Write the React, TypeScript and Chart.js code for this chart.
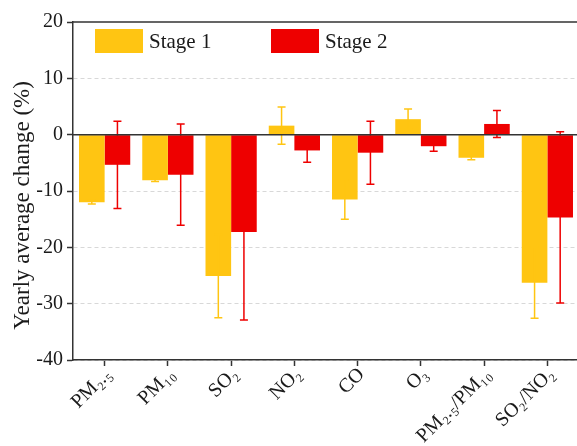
import React, { useEffect, useRef } from 'react';
import { Chart, registerables } from 'chart.js';

Chart.register(...registerables);

const categories = ['PM₂.₅', 'PM₁₀', 'SO₂', 'NO₂', 'CO', 'O₃', 'PM₂.₅/PM₁₀', 'SO₂/NO₂'];
const stage1Values = [-12.0, -8.1, -25.1, 1.6, -11.5, 2.75, -4.1, -26.3];
const stage1Errors = [0.3, 0.2, 7.4, 3.3, 3.5, 1.8, 0.35, 6.3];
const stage2Values = [-5.35, -7.1, -17.3, -2.8, -3.2, -2.05, 1.9, -14.7];
const stage2Errors = [7.75, 9.0, 15.6, 2.1, 5.6, 0.9, 2.4, 15.2];
const yMin = -40;
const yMax = 20;
const yStep = 10;

const FONT = '"Liberation Serif", "Times New Roman", serif';
const TEXT = '#1a1a1a';
const AXIS = '#333333';
const YELLOW = '#FFC512';
const RED = '#EE0000';

const errorBarPlugin = {
  id: 'errorBars',
  afterDatasetsDraw(chart: any) {
    const ctx = chart.ctx;
    const y = chart.scales.y;
    const area = chart.chartArea;
    chart.data.datasets.forEach((ds: any, di: number) => {
      const meta = chart.getDatasetMeta(di);
      meta.data.forEach((bar: any, i: number) => {
        const v = ds.data[i];
        const e = ds.errors[i];
        const x = bar.x;
        const yHi = y.getPixelForValue(v + e);
        const yLo = y.getPixelForValue(v - e);
        ctx.save();
        ctx.strokeStyle = ds.errorColor;
        ctx.lineWidth = 1.5;
        ctx.beginPath();
        ctx.moveTo(x, yHi);
        ctx.lineTo(x, yLo);
        ctx.moveTo(x - 4, yHi);
        ctx.lineTo(x + 4, yHi);
        ctx.moveTo(x - 4, yLo);
        ctx.lineTo(x + 4, yLo);
        ctx.stroke();
        ctx.restore();
      });
    });
    // zero line and top frame on top of bars
    ctx.save();
    ctx.strokeStyle = AXIS;
    ctx.lineWidth = 1.5;
    ctx.beginPath();
    const y0 = y.getPixelForValue(0);
    ctx.moveTo(area.left, y0);
    ctx.lineTo(area.right, y0);
    const yT = y.getPixelForValue(yMax);
    ctx.moveTo(area.left, yT);
    ctx.lineTo(area.right, yT);
    ctx.stroke();
    ctx.restore();
  },
};

const legendPlugin = {
  id: 'insideLegend',
  afterDraw(chart: any) {
    const ctx = chart.ctx;
    const area = chart.chartArea;
    const offsets = [22, 198];
    ctx.save();
    ctx.font = `21px ${FONT}`;
    ctx.textBaseline = 'middle';
    ctx.textAlign = 'left';
    chart.data.datasets.forEach((ds: any, i: number) => {
      const bx = area.left + offsets[i];
      const by = area.top + 7;
      ctx.fillStyle = ds.backgroundColor;
      ctx.fillRect(bx, by, 48, 24);
      ctx.fillStyle = TEXT;
      ctx.fillText(ds.label, bx + 54, by + 13);
    });
    ctx.restore();
  },
};

export default function App() {
  const canvasRef = useRef<HTMLCanvasElement>(null);

  useEffect(() => {
    if (!canvasRef.current) return;
    const chart = new Chart(canvasRef.current, {
      type: 'bar',
      data: {
        labels: categories,
        datasets: [
          {
            label: 'Stage 1',
            data: stage1Values,
            errors: stage1Errors,
            errorColor: YELLOW,
            backgroundColor: YELLOW,
            borderWidth: 0,
            categoryPercentage: 0.81,
            barPercentage: 1.0,
          } as any,
          {
            label: 'Stage 2',
            data: stage2Values,
            errors: stage2Errors,
            errorColor: RED,
            backgroundColor: RED,
            borderWidth: 0,
            categoryPercentage: 0.81,
            barPercentage: 1.0,
          } as any,
        ],
      },
      options: {
        responsive: false,
        animation: false,
        devicePixelRatio: 1,
        layout: { padding: { top: 22, right: 0, left: 0, bottom: 0 } },
        plugins: {
          legend: { display: false },
          tooltip: { enabled: false },
        },
        scales: {
          x: {
            type: 'category',
            offset: true,
            grid: {
              offset: false,
              drawOnChartArea: false,
              drawTicks: true,
              tickLength: 6,
              tickColor: AXIS,
              tickWidth: 1.5,
            },
            border: { display: true, color: AXIS, width: 1.5, z: 1 },
            ticks: {
              autoSkip: false,
              maxRotation: 45,
              minRotation: 45,
              padding: -3,
              labelOffset: 4,
              color: TEXT,
              font: { family: FONT, size: 20 },
            },
            afterFit: (s: any) => {
              s.height = 86;
            },
          },
          y: {
            min: yMin,
            max: yMax,
            grid: {
              color: (c: any) => (c.tick && (c.tick.value === 0 || c.tick.value === yMax) ? 'rgba(0,0,0,0)' : '#d8d8d8'),
              lineWidth: 1,
              drawTicks: true,
              tickLength: 6,
              tickColor: AXIS,
              tickWidth: 1.5,
            },
            border: {
              display: true,
              color: AXIS,
              width: 1.5,
              dash: (c: any) => (c.tick ? [4, 3] : []),
            },
            ticks: {
              stepSize: yStep,
              padding: 4,
              color: TEXT,
              font: { family: FONT, size: 20 },
            },
            title: {
              display: true,
              text: 'Yearly average change (%)\u00A0\u00A0\u00A0\u00A0\u00A0',
              color: TEXT,
              font: { family: FONT, size: 23 },
              padding: { top: 9, bottom: 0 },
            },
            afterFit: (s: any) => {
              s.width = 73;
            },
          },
        },
      },
      plugins: [errorBarPlugin, legendPlugin],
    } as any);
    return () => chart.destroy();
  }, []);

  return (
    <div style={{ position: 'absolute', left: 0, top: 0, width: 577, height: 446, overflow: 'hidden', background: '#fff' }}>
      <canvas ref={canvasRef} width={579} height={446} style={{ display: 'block' }} />
    </div>
  );
}
